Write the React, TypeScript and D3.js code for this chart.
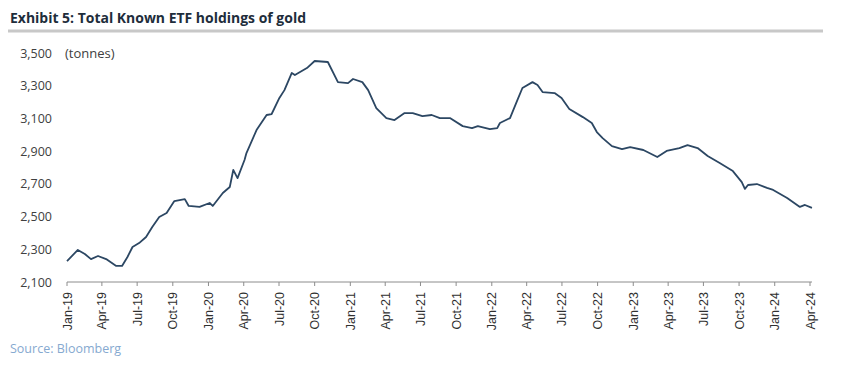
import React from "react";
import * as d3 from "d3";

const dates: string[] = [
  "2019-01-01","2019-01-29","2019-02-16","2019-03-04","2019-03-22","2019-04-12","2019-05-08","2019-05-23",
  "2019-06-06","2019-06-19","2019-07-06","2019-07-24","2019-08-09","2019-08-27","2019-09-15","2019-10-05",
  "2019-11-01","2019-11-11","2019-12-09","2020-01-04","2020-01-12","2020-02-07","2020-02-25","2020-03-05",
  "2020-03-16","2020-04-03","2020-04-08","2020-05-04","2020-05-30","2020-06-12","2020-07-02","2020-07-15",
  "2020-08-03","2020-08-11","2020-09-11","2020-10-01","2020-11-04","2020-11-30","2020-12-26","2021-01-08",
  "2021-02-01","2021-02-16","2021-03-09","2021-04-04","2021-04-25","2021-05-21","2021-06-11","2021-07-06",
  "2021-07-30","2021-08-20","2021-09-15","2021-10-18","2021-11-11","2021-11-26","2021-12-27","2022-01-15",
  "2022-01-22","2022-02-17","2022-03-08","2022-03-21","2022-04-16","2022-04-29","2022-05-12","2022-06-12",
  "2022-06-30","2022-07-20","2022-08-24","2022-09-16","2022-09-29","2022-10-14","2022-11-07","2022-12-03",
  "2022-12-24","2023-01-27","2023-03-04","2023-03-28","2023-04-30","2023-05-21","2023-06-16","2023-07-12",
  "2023-08-12","2023-09-15","2023-10-08","2023-10-16","2023-10-24","2023-11-16","2023-12-12","2023-12-28",
  "2024-02-02","2024-03-06","2024-03-19","2024-04-06"
];

const holdings: number[] = [
  2228,2296,2271,2240,2259,2240,2198,2198,
  2253,2314,2338,2375,2436,2497,2522,2595,
  2607,2565,2559,2583,2565,2644,2681,2785,
  2735,2846,2888,3029,3121,3127,3225,3273,
  3378,3365,3408,3451,3445,3322,3316,3341,
  3322,3273,3163,3102,3090,3133,3133,3114,
  3121,3102,3102,3053,3041,3053,3035,3041,
  3072,3102,3212,3286,3322,3304,3261,3255,
  3225,3158,3108,3072,3017,2980,2931,2913,
  2925,2907,2864,2901,2919,2937,2919,2870,
  2827,2778,2711,2669,2693,2699,2675,2663,
  2614,2559,2571,2553
];

const yTicks: number[] = [2100, 2300, 2500, 2700, 2900, 3100, 3300, 3500];

const title = "Exhibit 5: Total Known ETF holdings of gold";
const unitLabel = "(tonnes)";
const sourceLabel = "Source: Bloomberg";

const W = 848;
const H = 371;

export default function App() {
  const parse = d3.timeParse("%Y-%m-%d");
  const data = dates.map((d, i) => ({ date: parse(d) as Date, value: holdings[i] }));

  const x = d3
    .scaleTime()
    .domain([new Date(2019, 0, 1), new Date(2024, 3, 1)])
    .range([67, 810]);
  const y = d3.scaleLinear().domain([2100, 3500]).range([282, 53]);

  const xTicks = d3.timeMonth.every(3)!.range(new Date(2019, 0, 1), new Date(2024, 3, 2));
  const fmtX = d3.timeFormat("%b-%y");
  const fmtY = d3.format(",");

  const line = d3
    .line<{ date: Date; value: number }>()
    .x((d) => x(d.date))
    .y((d) => y(d.value))
    .curve(d3.curveLinear);

  const font = "'Open Sans', 'Noto Sans', sans-serif";

  return (
    <svg
      width={W}
      height={H}
      style={{ position: "absolute", left: 0, top: 0, background: "#fff" }}
      fontFamily={font}
    >
      <rect x={0} y={0} width={W} height={H} fill="#fff" />
      <text
        x={10}
        y={23}
        fontSize={14}
        fontWeight={700}
        fill="#1e2d3b"
        textLength={296}
        lengthAdjust="spacingAndGlyphs"
      >
        {title}
      </text>
      <line x1={8} x2={823} y1={31} y2={31} stroke="#c8c8c8" strokeWidth={3} />

      {yTicks.map((t) => (
        <text key={t} x={52} y={y(t) + 4.5} textAnchor="end" fontSize={12.5} fill="#404040">
          {fmtY(t)}
        </text>
      ))}
      <text x={65} y={y(3500) + 4.5} fontSize={13} fill="#404040">
        {unitLabel}
      </text>

      <line x1={x.range()[0]} x2={812} y1={282} y2={282} stroke="#8c8c8c" strokeWidth={1} />
      {xTicks.map((t) => (
        <g key={t.getTime()} transform={`translate(${x(t)},282)`}>
          <line y1={0} y2={4} stroke="#8c8c8c" strokeWidth={1} />
          <text
            transform="translate(4.5,10) rotate(-90)"
            textAnchor="end"
            fontSize={12.5}
            fill="#303030"
            fontFamily="'Liberation Sans', Arial, sans-serif"
          >
            {fmtX(t)}
          </text>
        </g>
      ))}

      <path d={line(data) || ""} fill="none" stroke="#2c4763" strokeWidth={1.8} strokeLinejoin="round" />

      <text x={10} y={353} fontSize={12.5} fill="#86a9d0">
        {sourceLabel}
      </text>
    </svg>
  );
}
